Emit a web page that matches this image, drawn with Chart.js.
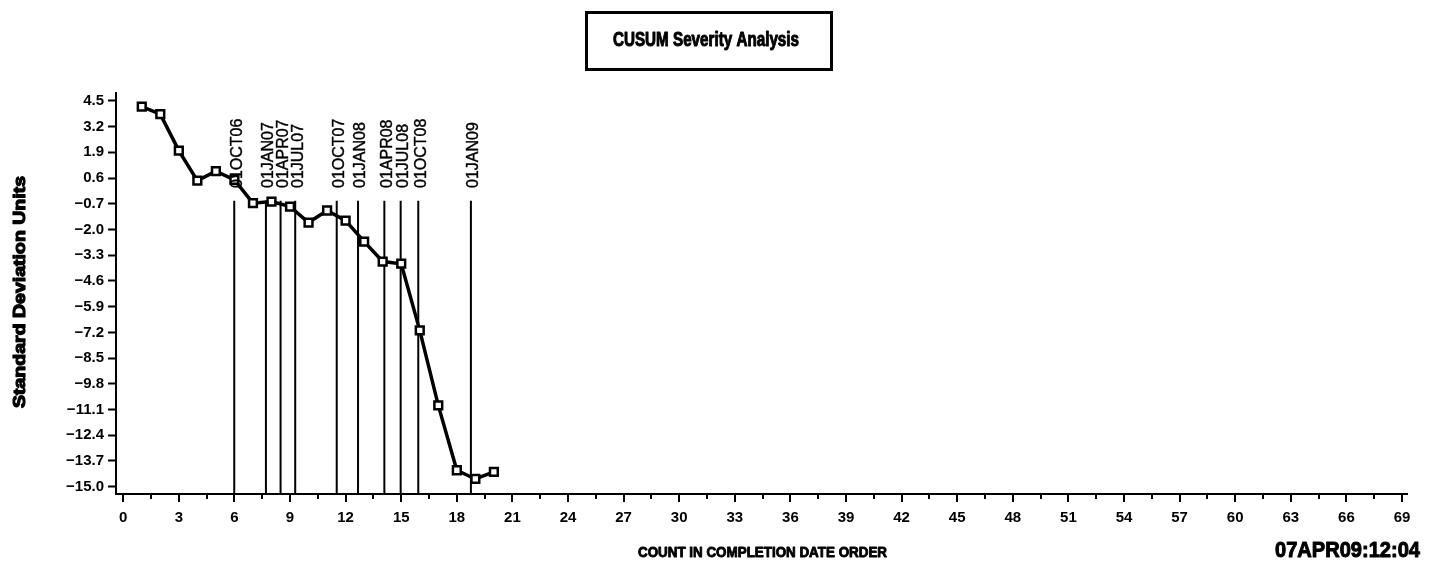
<!DOCTYPE html>
<html>
<head>
<meta charset="utf-8">
<script src="https://cdn.jsdelivr.net/npm/chart.js@4.4.0/dist/chart.umd.min.js"></script>
<style>
html,body{margin:0;padding:0;background:#ffffff;}
#wrap{width:1431px;height:566px;position:relative;}
</style>
</head>
<body>
<div id="wrap"><canvas id="c" width="1431" height="566"></canvas></div>
<script>
// ---- data ----
const counts = [1,2,3,4,5,6,7,8,9,10,11,12,13,14,15,16,17,18,19,20];
const cusum = [4.21,3.83,1.99,0.47,0.95,0.51,-0.67,-0.59,-0.84,-1.65,-1.04,-1.55,-2.61,-3.62,-3.73,-7.10,-10.89,-14.17,-14.61,-14.25];
const refLabels = ['01OCT06','01JAN07','01APR07','01JUL07','01OCT07','01JAN08','01APR08','01JUL08','01OCT08','01JAN09'];
const refPositions = [5.99,7.70,8.49,9.28,11.52,12.67,14.09,14.97,15.92,18.76];
const refTop = -0.55;
const yTickValues = [4.5,3.2,1.9,0.6,-0.7,-2.0,-3.3,-4.6,-5.9,-7.2,-8.5,-9.8,-11.1,-12.4,-13.7,-15.0];
const yTickLabels = ['4.5','3.2','1.9','0.6','\u22120.7','\u22122.0','\u22123.3','\u22124.6','\u22125.9','\u22127.2','\u22128.5','\u22129.8','\u221211.1','\u221212.4','\u221213.7','\u221215.0'];
const xMajorTicks = [0,3,6,9,12,15,18,21,24,27,30,33,36,39,42,45,48,51,54,57,60,63,66,69];
const xTickLabels = ['0','3','6','9','12','15','18','21','24','27','30','33','36','39','42','45','48','51','54','57','60','63','66','69'];
const xMinorTicks = [1.5,4.5,7.5,10.5,13.5,16.5,19.5,22.5,25.5,28.5,31.5,34.5,37.5,40.5,43.5,46.5,49.5,52.5,55.5,58.5,61.5,64.5,67.5];
const xRange = [-0.39, 69.27];
const yRange = [-15.37, 4.90];
const titleText = 'CUSUM Severity Analysis';
const yTitleText = 'Standard Deviation Units';
const xTitleText = 'COUNT IN COMPLETION DATE ORDER';
const stampText = '07APR09:12:04';

const FONT = '"Liberation Sans", Arial, sans-serif';

// ---- datasets ----
const datasets = [{
  label: 'CUSUM',
  data: counts.map((c, i) => ({x: c, y: cusum[i]})),
  borderColor: '#000',
  borderWidth: 3.5,
  backgroundColor: '#fff',
  pointStyle: 'rect',
  pointRadius: 5.5,
  pointBorderWidth: 2.5,
  pointBackgroundColor: '#fff',
  pointBorderColor: '#000',
  tension: 0,
  order: 0
}];
refPositions.forEach((p, i) => {
  datasets.push({
    label: refLabels[i],
    data: [{x: p, y: yRange[0]}, {x: p, y: refTop}],
    borderColor: '#000',
    borderWidth: 2,
    pointRadius: 0,
    tension: 0,
    order: 1
  });
});

function drawFit(ctx, text, x, baseline, size, targetW, align, heavy) {
  ctx.save();
  ctx.font = 'bold ' + size + 'px ' + FONT;
  const w = ctx.measureText(text).width;
  const s = targetW / w;
  ctx.textBaseline = 'alphabetic';
  ctx.textAlign = 'left';
  let left = align === 'center' ? x - targetW / 2 : x;
  ctx.translate(left, baseline);
  ctx.scale(s, 1);
  ctx.fillStyle = '#000';
  ctx.fillText(text, 0, 0);
  if (heavy) {
    ctx.strokeStyle = '#000';
    ctx.lineWidth = heavy;
    ctx.lineJoin = 'round';
    ctx.strokeText(text, 0, 0);
  }
  ctx.restore();
}

const decor = {
  id: 'decor',
  afterDatasetsDraw(chart) {
    const ctx = chart.ctx;
    const xs = chart.scales.x;
    const axisY = chart.chartArea.bottom;
    // x tick marks
    ctx.save();
    ctx.strokeStyle = '#000';
    ctx.lineWidth = 2;
    ctx.beginPath();
    xMajorTicks.forEach(v => {
      const px = Math.round(xs.getPixelForValue(v));
      ctx.moveTo(px, axisY); ctx.lineTo(px, axisY + 8);
    });
    xMinorTicks.forEach(v => {
      const px = Math.round(xs.getPixelForValue(v));
      ctx.moveTo(px, axisY); ctx.lineTo(px, axisY + 5);
    });
    ctx.stroke();
    ctx.restore();
    // reference labels
    ctx.save();
    ctx.fillStyle = '#000';
    ctx.strokeStyle = '#000';
    ctx.lineWidth = 0.4;
    ctx.font = '16px ' + FONT;
    ctx.textAlign = 'left';
    ctx.textBaseline = 'middle';
    const labelBottom = 188;
    refPositions.forEach((p, i) => {
      const px = xs.getPixelForValue(p);
      ctx.save();
      ctx.translate(px + 3, labelBottom);
      ctx.rotate(-Math.PI / 2);
      ctx.fillText(refLabels[i], 0, 0);
      ctx.strokeText(refLabels[i], 0, 0);
      ctx.restore();
    });
    ctx.restore();
    // title box
    ctx.save();
    ctx.strokeStyle = '#000';
    ctx.lineWidth = 3;
    ctx.strokeRect(586.5, 12.5, 245, 57);
    ctx.restore();
    drawFit(ctx, titleText, 706, 46, 19.5, 186, 'center', 1);
    // y title rotated
    ctx.save();
    ctx.translate(25, 292);
    ctx.rotate(-Math.PI / 2);
    drawFit(ctx, yTitleText, 0, 0, 16.5, 232, 'center', 1.2);
    ctx.restore();
    // x title
    drawFit(ctx, xTitleText, 762.5, 557, 14.5, 249, 'center', 0.9);
    // timestamp
    drawFit(ctx, stampText, 1275, 557, 22, 145, 'left', 1);
  }
};

new Chart(document.getElementById('c'), {
  type: 'line',
  data: { datasets: datasets },
  options: {
    responsive: false,
    animation: false,
    devicePixelRatio: 1,
    layout: { padding: { left: 0, top: 93, right: 24, bottom: 0 } },
    plugins: { legend: { display: false }, title: { display: false }, tooltip: { enabled: false } },
    scales: {
      x: {
        type: 'linear',
        min: xRange[0], max: xRange[1],
        afterBuildTicks: axis => { axis.ticks = xMajorTicks.map(v => ({value: v})); },
        afterFit: axis => { axis.height = 72; },
        grid: { display: true, drawOnChartArea: false, drawTicks: false, color: '#000' },
        border: { display: true, color: '#000', width: 2 },
        ticks: {
          autoSkip: false, maxRotation: 0, minRotation: 0, padding: 15,
          color: '#000', font: { family: FONT, size: 15, weight: 'bold' },
          callback: (v, i) => xTickLabels[i]
        }
      },
      y: {
        type: 'linear',
        min: yRange[0], max: yRange[1],
        afterBuildTicks: axis => { axis.ticks = yTickValues.map(v => ({value: v})); },
        afterFit: axis => { axis.width = 116; },
        grid: { display: true, drawOnChartArea: false, drawTicks: true, tickLength: 8, color: '#000', tickColor: '#000', tickWidth: 2 },
        border: { display: true, color: '#000', width: 2 },
        ticks: {
          autoSkip: false, padding: 4,
          color: '#000', font: { family: FONT, size: 15, weight: 'bold' },
          callback: (v, i) => yTickLabels[i]
        }
      }
    }
  },
  plugins: [decor]
});
</script>
</body>
</html>
